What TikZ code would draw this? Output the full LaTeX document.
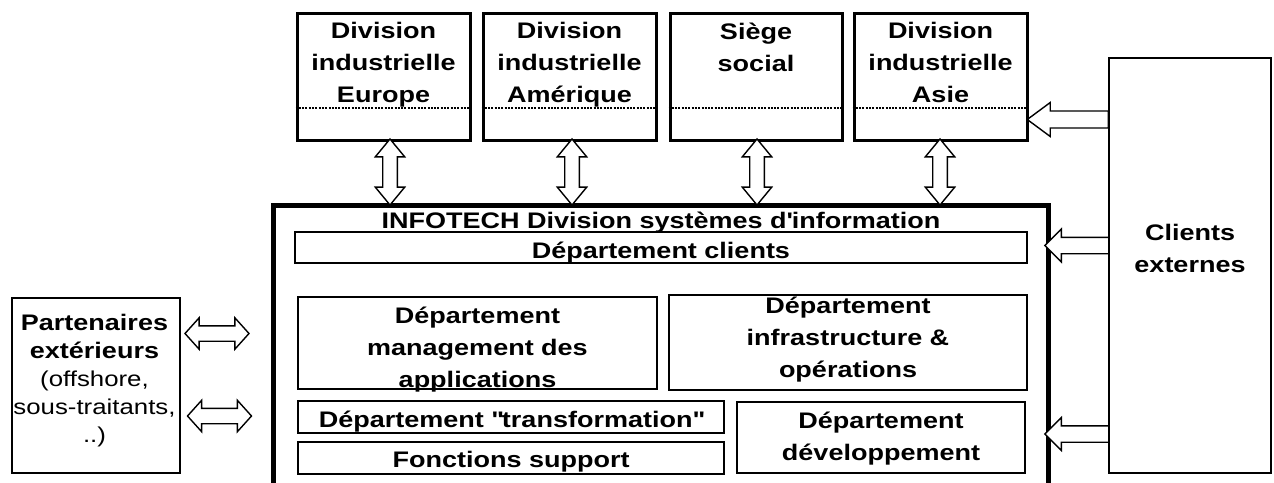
\documentclass[tikz,border=0pt]{standalone}
\usepackage{fontspec}
\setmainfont{Liberation Sans}[FakeStretch=1.2]
\usetikzlibrary{shapes.arrows}
\begin{document}
\begin{tikzpicture}[x=1pt,y=-1pt,
  topbox/.style={draw, line width=3pt, inner sep=0, minimum height=127pt},
  inbox/.style={draw, line width=2pt, inner sep=0},
  thinbox/.style={draw, line width=1.6pt, inner sep=0},
  txt/.style={font=\fontsize{22.5}{32}\selectfont\bfseries, align=center, inner sep=0},
  ptxt/.style={font=\fontsize{21.5}{28}\selectfont, align=center, inner sep=0},
  dotline/.style={line width=2pt, dash pattern=on 2pt off 1.3pt},
  blockarrow/.style={draw, line width=1.4pt, fill=white, inner xsep=0},
  varrow/.style={blockarrow, double arrow, rotate=90, inner ysep=6.6pt,
    minimum height=66pt, double arrow head extend=7.4pt, double arrow tip angle=79},
  harrow/.style={blockarrow, double arrow, inner ysep=7pt,
    minimum height=64pt, double arrow head extend=8pt, double arrow tip angle=96},
  larrow/.style={blockarrow, single arrow, rotate=180, inner ysep=7.5pt,
    minimum height=64pt, single arrow head extend=8.3pt, single arrow tip angle=90}
]
\useasboundingbox (0,0) rectangle (1274,482);
\clip (0,0) rectangle (1274,482);
\fill[white] (0,0) rectangle (1274,482);

% top boxes
\node[topbox, minimum width=173pt] (eu) at (383.5,76.5) {};
\node[topbox, minimum width=173pt] (am) at (569.5,76.5) {};
\node[topbox, minimum width=172pt] (ss) at (756,76.5) {};
\node[topbox, minimum width=173pt] (as) at (940.5,76.5) {};
\foreach \b in {eu,am,ss,as}{
  \draw[dotline] (\b.west |- 0,108) -- (\b.east |- 0,108);
}
\node[txt, anchor=north] (eut) at (383.5,22) {Division\\industrielle\\Europe};
\node[txt, anchor=north] (amt) at (569.5,22) {Division\\industrielle\\Amérique};
\node[txt, anchor=north] (sst) at (756,22.5) {Siège\\social};
\node[txt, anchor=north] (ast) at (940.5,22) {Division\\industrielle\\Asie};

% INFOTECH
\node[draw, line width=5pt, inner sep=0, minimum width=775pt, minimum height=300pt] (info) at (660.5,355) {};
\node[txt, anchor=base] (infot) at (661,228) {INFOTECH Division systèmes d\textquotesingle information};

\node[inbox, minimum width=732pt, minimum height=31pt] (cli) at (661,247.5) {};
\node[txt, anchor=base] (clit) at (661,258) {Département clients};

\node[inbox, minimum width=359pt, minimum height=92pt] (mgmt) at (477.5,343) {};
\node[txt, anchor=north] (mgmtt) at (477.5,306.5) {Département\\management des\\applications};

\node[inbox, minimum width=358pt, minimum height=95pt] (infra) at (848,342.5) {};
\node[txt, anchor=north] (infrat) at (848,296.5) {Département\\infrastructure \&\\opérations};

\node[draw, line width=2.6pt, inner sep=0, minimum width=426pt, minimum height=32pt] (trans) at (511,417) {};
\node[txt, anchor=base] (transt) at (511,427) {Département \textquotedbl transformation\textquotedbl};

\node[inbox, minimum width=426pt, minimum height=32pt] (fonc) at (511,458) {};
\node[txt, anchor=base] (fonct) at (511,467) {Fonctions support};

\node[inbox, minimum width=288pt, minimum height=71pt] (dev) at (881,437.5) {};
\node[txt, anchor=north] (devt) at (881,411.5) {Département\\développement};

% clients externes
\node[thinbox, minimum width=162pt, minimum height=415pt] (ce) at (1190,265.5) {};
\node[txt, anchor=north] (cet) at (1190,224) {Clients\\externes};

% partenaires
\node[thinbox, minimum width=168pt, minimum height=175pt] (part) at (96,385.5) {};
\node[ptxt, anchor=north] (partt) at (94.5,314) {{\fontsize{22.5}{28}\selectfont\bfseries Partenaires}\\{\fontsize{22.5}{28}\selectfont\bfseries extérieurs}\\(offshore,\\sous-traitants,\\..)};

% vertical double arrows
\node[varrow] (a1) at (390,172) {};
\node[varrow] (a2) at (572,172) {};
\node[varrow] (a3) at (757,172) {};
\node[varrow] (a4) at (940,172) {};

% horizontal double arrows
\node[harrow] (h1) at (217,333.5) {};
\node[harrow] (h2) at (219.5,416) {};

% single arrows from clients
\node[larrow, minimum height=81pt, inner ysep=7.8pt, single arrow head extend=8.5pt, single arrow tip angle=73] (l1) at (1073.5,119.5) {};
\node[larrow] (l2) at (1081,245.5) {};
\node[larrow] (l3) at (1081,434) {};
\end{tikzpicture}
\end{document}
